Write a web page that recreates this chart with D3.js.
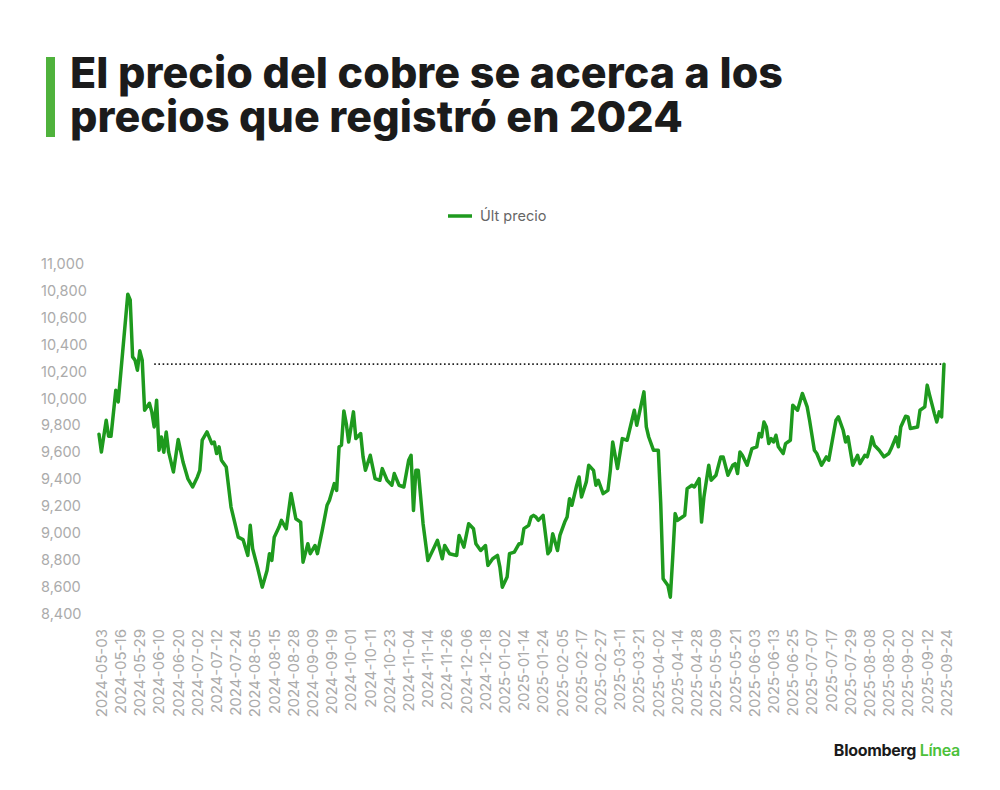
<!DOCTYPE html>
<html>
<head>
<meta charset="utf-8">
<script src="https://cdn.jsdelivr.net/npm/d3@7"></script>
<style>
  html, body { margin: 0; padding: 0; background: #fff; }
  #chart { position: relative; width: 1000px; height: 790px; }
  svg { display: block; }
  .title {
    position: absolute;
    left: 70px;
    top: 50px;
    margin: 0;
    font-family: Inter, "Noto Sans", sans-serif;
    font-weight: 800;
    font-size: 43px;
    line-height: 44px;
    color: #1b1b1b;
    white-space: nowrap;
  }
</style>
</head>
<body>
<div id="chart"></div>
<script>
// Title and labels
const TITLE_LINES = ['El precio del cobre se acerca a los', 'precios que registró en 2024'];
const SERIES_NAME = 'Últ precio';

// X tick labels, one every 8 trading days
const TICK_LABELS = [
  '2024-05-03', '2024-05-16', '2024-05-29', '2024-06-10', '2024-06-20', '2024-07-02', '2024-07-12',
  '2024-07-24', '2024-08-05', '2024-08-15', '2024-08-28', '2024-09-09', '2024-09-19', '2024-10-01',
  '2024-10-11', '2024-10-23', '2024-11-04', '2024-11-14', '2024-11-26', '2024-12-06', '2024-12-18',
  '2025-01-02', '2025-01-14', '2025-01-24', '2025-02-05', '2025-02-17', '2025-02-27', '2025-03-11',
  '2025-03-21', '2025-04-02', '2025-04-14', '2025-04-28', '2025-05-09', '2025-05-21', '2025-06-03',
  '2025-06-13', '2025-06-25', '2025-07-07', '2025-07-17', '2025-07-29', '2025-08-08', '2025-08-20',
  '2025-09-02', '2025-09-12', '2025-09-24'
];
const DAYS_PER_TICK = 8;

// Y ticks
const Y_TICKS = [8400, 8600, 8800, 9000, 9200, 9400, 9600, 9800, 10000, 10200, 10400, 10600, 10800, 11000];

// Copper price (USD/t): trading-day index and price
const DAYS = [
  0, 1, 3, 4, 5, 7, 8, 12, 13, 14, 15, 16, 17, 18, 19, 21, 22, 23, 24, 25, 26, 27, 28, 29, 31, 33, 35, 37, 39,
  41, 42, 43, 45, 47, 48, 49, 50, 51, 53, 55, 58, 60, 62, 63, 64, 66, 68, 70, 71, 72, 73, 75, 76, 78, 80, 82,
  84, 85, 87, 88, 90, 91, 93, 95, 96, 98, 99, 100, 101, 102, 103, 104, 106, 107, 109, 110, 111, 113, 115, 117,
  118, 120, 122, 123, 125, 127, 129, 130, 131, 132, 133, 135, 137, 139, 141, 143, 144, 146, 149, 150, 152, 154,
  156, 157, 159, 161, 162, 164, 166, 167, 168, 170, 171, 173, 175, 176, 177, 179, 180, 181, 182, 183, 185, 187,
  188, 189, 191, 192, 194, 195, 196, 197, 199, 200, 201, 203, 204, 206, 207, 208, 210, 212, 213, 214, 216, 218,
  220, 221, 223, 224, 227, 228, 229, 231, 233, 234, 235, 237, 238, 239, 240, 241, 243, 244, 245, 247, 248, 250,
  251, 252, 254, 255, 257, 259, 260, 262, 264, 265, 266, 267, 268, 270, 272, 274, 275, 276, 277, 278, 279, 280,
  281, 282, 283, 285, 286, 288, 289, 291, 293, 295, 296, 298, 299, 301, 303, 304, 306, 307, 308, 310, 311, 312,
  314, 316, 317, 319, 320, 321, 322, 323, 325, 327, 329, 330, 332, 333, 334, 336, 337, 338, 341, 342, 344, 345,
  346, 348, 349, 350, 351, 352
];
const PRICES = [
  9734, 9602, 9838, 9719, 9719, 10061, 9974, 10775, 10732, 10309, 10285, 10210, 10354, 10285, 9912, 9964, 9900,
  9788, 9987, 9614, 9713, 9600, 9751, 9602, 9453, 9694, 9527, 9404, 9341, 9416, 9465, 9689, 9751, 9664, 9676,
  9590, 9640, 9540, 9490, 9192, 8968, 8950, 8832, 9056, 8882, 8745, 8596, 8720, 8845, 8795, 8968, 9043, 9093,
  9030, 9292, 9105, 9080, 8782, 8919, 8845, 8906, 8845, 9018, 9205, 9242, 9366, 9316, 9639, 9652, 9907, 9813,
  9676, 9900, 9701, 9739, 9565, 9465, 9577, 9404, 9391, 9478, 9391, 9354, 9441, 9354, 9341, 9540, 9577, 9167,
  9465, 9465, 9068, 8795, 8869, 8944, 8807, 8906, 8845, 8832, 8981, 8894, 9068, 9031, 8919, 8869, 8906, 8758,
  8807, 8832, 8745, 8596, 8671, 8845, 8857, 8919, 8919, 9031, 9056, 9118, 9130, 9118, 9093, 9130, 8845, 8869,
  8994, 8869, 8981, 9080, 9118, 9254, 9205, 9354, 9416, 9267, 9379, 9503, 9465, 9354, 9391, 9292, 9316, 9465,
  9676, 9478, 9701, 9689, 9763, 9912, 9800, 10049, 9788, 9713, 9614, 9614, 9217, 8659, 8609, 8521, 8819, 9143,
  9093, 9118, 9130, 9329, 9354, 9341, 9403, 9080, 9267, 9503, 9391, 9428, 9565, 9565, 9428, 9503, 9515, 9441,
  9602, 9577, 9503, 9627, 9640, 9739, 9714, 9825, 9788, 9664, 9701, 9676, 9726, 9640, 9590, 9664, 9689, 9950,
  9912, 10037, 9937, 9838, 9614, 9590, 9503, 9565, 9540, 9739, 9838, 9863, 9763, 9676, 9714, 9503, 9577, 9515,
  9577, 9565, 9627, 9714, 9652, 9614, 9565, 9590, 9627, 9714, 9640, 9788, 9868, 9863, 9776, 9788, 9912, 9937,
  10099, 10025, 9887, 9825, 9900, 9863, 10255
];

// Dotted reference: latest price carried back to where it was last seen
const REF_PRICE = 10255;
const REF_FROM_DAY = 23;

const WIDTH = 1000;
const HEIGHT = 790;
const LINE_GREEN = '#1e9a1e';

const chart = d3.select('#chart');
const svg = chart
  .append('svg')
  .attr('width', WIDTH)
  .attr('height', HEIGHT);

// Title with green bar
svg.append('rect')
  .attr('x', 46)
  .attr('y', 57)
  .attr('width', 9)
  .attr('height', 80)
  .attr('fill', '#4fb23c');

// Title as a single block of text, tracking tightened to fit the first line
const ctx = document.createElement('canvas').getContext('2d');
ctx.font = '800 43px Inter';
const firstWidth = ctx.measureText(TITLE_LINES[0]).width;
const tracking = (713 - firstWidth) / TITLE_LINES[0].length;

chart.append('div')
  .attr('class', 'title')
  .style('letter-spacing', tracking.toFixed(2) + 'px')
  .html(TITLE_LINES.join('<br>'));

// Legend
svg.append('line')
  .attr('x1', 448).attr('x2', 472)
  .attr('y1', 216).attr('y2', 216)
  .attr('stroke', LINE_GREEN)
  .attr('stroke-width', 3.5);
svg.append('text')
  .attr('x', 480)
  .attr('y', 216)
  .attr('dy', '0.35em')
  .attr('font-family', 'Inter, sans-serif')
  .attr('font-size', '14.5px')
  .attr('fill', '#666')
  .text(SERIES_NAME);

// Scales
const x = d3.scaleLinear()
  .domain([0, (TICK_LABELS.length - 1) * DAYS_PER_TICK])
  .range([99, 944]);

const y = d3.scaleLinear()
  .domain([8400, 11000])
  .range([613.5, 264]);

// Y axis labels (left aligned, no lines)
const yAxis = svg.append('g')
  .attr('transform', 'translate(41,0)')
  .call(d3.axisRight(y).tickValues(Y_TICKS).tickSize(0).tickPadding(0).tickFormat(d3.format(',')));
yAxis.select('.domain').remove();
yAxis.selectAll('text')
  .attr('font-family', 'Inter, sans-serif')
  .attr('font-size', '14.5px')
  .attr('fill', '#ababab');

// X axis labels, rotated
const xAxis = svg.append('g')
  .attr('transform', 'translate(2,629)')
  .call(d3.axisBottom(x)
    .tickValues(TICK_LABELS.map((_, i) => i * DAYS_PER_TICK))
    .tickSize(0)
    .tickPadding(0)
    .tickFormat((d, i) => TICK_LABELS[i]));
xAxis.select('.domain').remove();
xAxis.selectAll('text')
  .attr('font-family', 'Inter, sans-serif')
  .attr('font-size', '15px')
  .attr('fill', '#ababab')
  .attr('text-anchor', 'end')
  .attr('transform', 'rotate(-90)')
  .attr('x', 0)
  .attr('y', 0)
  .attr('dy', '0.35em');

// Dotted reference line
svg.append('line')
  .attr('x1', x(REF_FROM_DAY))
  .attr('x2', x(DAYS[DAYS.length - 1]))
  .attr('y1', y(REF_PRICE))
  .attr('y2', y(REF_PRICE))
  .attr('stroke', '#222')
  .attr('stroke-width', 1.6)
  .attr('stroke-dasharray', '1.6,2.6');

// Price line
const points = DAYS.map((d, i) => [d, PRICES[i]]);
const line = d3.line()
  .x(d => x(d[0]))
  .y(d => y(d[1]));

svg.append('path')
  .datum(points)
  .attr('d', line)
  .attr('fill', 'none')
  .attr('stroke', LINE_GREEN)
  .attr('stroke-width', 3.5)
  .attr('stroke-linejoin', 'round')
  .attr('stroke-linecap', 'round');

// Source logo
const logo = svg.append('text')
  .attr('x', 960)
  .attr('y', 756)
  .attr('text-anchor', 'end')
  .attr('font-family', 'Inter, sans-serif')
  .attr('font-size', '16px')
  .attr('font-weight', 700)
  .attr('letter-spacing', '-0.3px');
logo.append('tspan').attr('fill', '#1b1b1b').text('Bloomberg ');
logo.append('tspan').attr('fill', '#4cc13a').attr('font-weight', 600).text('Línea');
</script>
</body>
</html>
